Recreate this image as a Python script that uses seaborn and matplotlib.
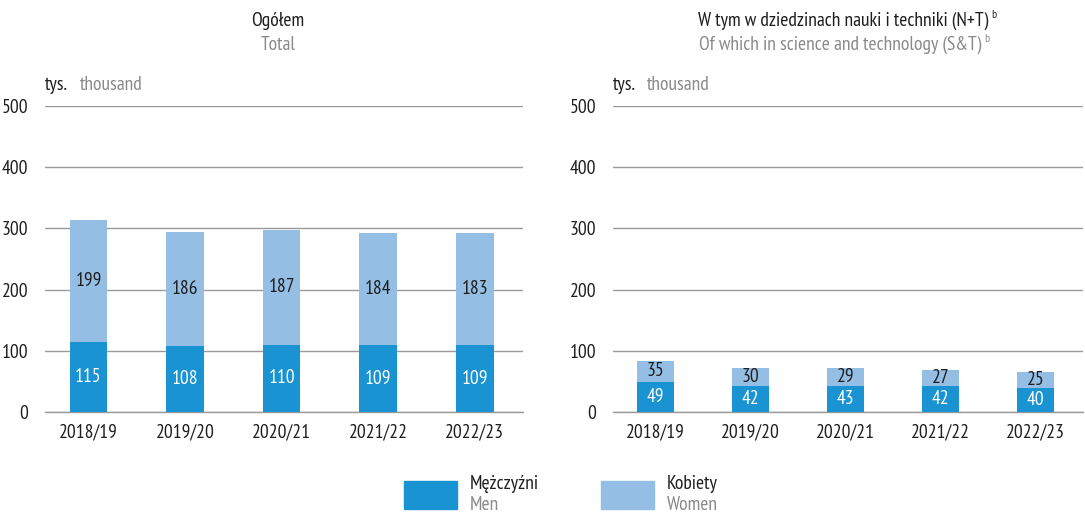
import numpy as np
import pandas as pd
import matplotlib
matplotlib.use("Agg")
import matplotlib.pyplot as plt
import seaborn as sns
from matplotlib import font_manager as fm
from matplotlib.patches import Rectangle

years = ["2018/19", "2019/20", "2020/21", "2021/22", "2022/23"]
men_total = [115, 108, 110, 109, 109]
women_total = [199, 186, 187, 184, 183]
men_st = [49, 42, 43, 42, 40]
women_st = [35, 30, 29, 27, 25]

yticks = [0, 100, 200, 300, 400, 500]

names = {f.name for f in fm.fontManager.ttflist}
fam = "DejaVu Sans"
for cand in ["PT Sans Narrow", "Roboto Condensed", "Fira Sans Condensed",
             "Archivo Narrow", "Liberation Sans Narrow"]:
    if cand in names:
        fam = cand
        break

sns.set_theme(style="white")
plt.rcParams["font.family"] = [fam, "DejaVu Sans"]

DARK = "#1a93d3"
LIGHT = "#94bee4"
GRID = "#9a9a9a"
GRAYTXT = "#8a8a8a"
BLACK = "#1e1e1e"
FS = 14

fig = plt.figure(figsize=(10.85, 5.13), dpi=100)


def panel(rect, men, women):
    ax = fig.add_axes(rect)
    df = pd.DataFrame({"year": years, "men": men, "women": women})
    df["total"] = df["men"] + df["women"]
    sns.barplot(data=df, x="year", y="total", color=LIGHT, width=0.39,
                saturation=1, ax=ax, zorder=3, linewidth=0)
    sns.barplot(data=df, x="year", y="men", color=DARK, width=0.39,
                saturation=1, ax=ax, zorder=4, linewidth=0)
    ax.set_ylim(0, 500)
    ax.set_xlim(-0.45, 4.5)
    ax.set_yticks(yticks)
    ax.set_yticklabels([str(v) for v in yticks])
    ax.yaxis.grid(True, color=GRID, linewidth=1.0, zorder=0)
    ax.axhline(0, color=GRID, linewidth=1.0, zorder=2, clip_on=False)
    ax.set_axisbelow(True)
    for s in ax.spines.values():
        s.set_visible(False)
    ax.tick_params(axis="y", length=0, pad=12, labelsize=FS, colors=BLACK)
    ax.tick_params(axis="x", length=0, pad=8, labelsize=FS, colors=BLACK)
    ax.set_xlabel("")
    ax.set_ylabel("")
    for i, (m, w) in enumerate(zip(men, women)):
        ax.text(i, m / 2, str(m), ha="center", va="center", color="white",
                fontsize=FS, zorder=5)
        ax.text(i, m + w / 2, str(w), ha="center", va="center", color=BLACK,
                fontsize=FS, zorder=5)
    ax.text(0.0, 1.07, "tys.", transform=ax.transAxes, ha="left", va="center",
            fontsize=FS, color=BLACK)
    ax.text(0.072, 1.07, "thousand", transform=ax.transAxes, ha="left", va="center",
            fontsize=FS, color=GRAYTXT)
    return ax


ax1 = panel([0.0415, 0.1969, 0.4406, 0.5965], men_total, women_total)
ax2 = panel([0.565, 0.1969, 0.433, 0.5965], men_st, women_st)

fig.text(278 / 1085, 1 - 21 / 513, "Ogółem", ha="center", va="center", fontsize=FS, color=BLACK)
fig.text(278 / 1085, 1 - 45 / 513, "Total", ha="center", va="center", fontsize=FS, color=GRAYTXT)

renderer = fig.canvas.get_renderer()


def title_with_sup(xc, y, s, color):
    t = fig.text(xc, y, s, ha="center", va="center", fontsize=FS, color=color)
    bb = t.get_window_extent(renderer=renderer)
    x_right = bb.x1 / fig.bbox.width
    fig.text(x_right + 3 / 1085, y + 6 / 513, "b", ha="left", va="center",
             fontsize=8.5, color=color)


title_with_sup(843 / 1085, 1 - 21 / 513, "W tym w dziedzinach nauki i techniki (N+T)", BLACK)
title_with_sup(840 / 1085, 1 - 45 / 513, "Of which in science and technology (S&T)", GRAYTXT)

# legend
fig.patches.append(Rectangle((404 / 1085, 1 - 509 / 513), 53 / 1085, 28 / 513,
                             transform=fig.transFigure, color=DARK))
fig.patches.append(Rectangle((601 / 1085, 1 - 509 / 513), 53 / 1085, 28 / 513,
                             transform=fig.transFigure, color=LIGHT))
fig.text(470 / 1085, 1 - 484 / 513, "Mężczyźni", ha="left", va="center", fontsize=FS, color=BLACK)
fig.text(470 / 1085, 1 - 505 / 513, "Men", ha="left", va="center", fontsize=FS, color=GRAYTXT)
fig.text(667 / 1085, 1 - 484 / 513, "Kobiety", ha="left", va="center", fontsize=FS, color=BLACK)
fig.text(667 / 1085, 1 - 505 / 513, "Women", ha="left", va="center", fontsize=FS, color=GRAYTXT)

fig.savefig("out.png", dpi=100)
